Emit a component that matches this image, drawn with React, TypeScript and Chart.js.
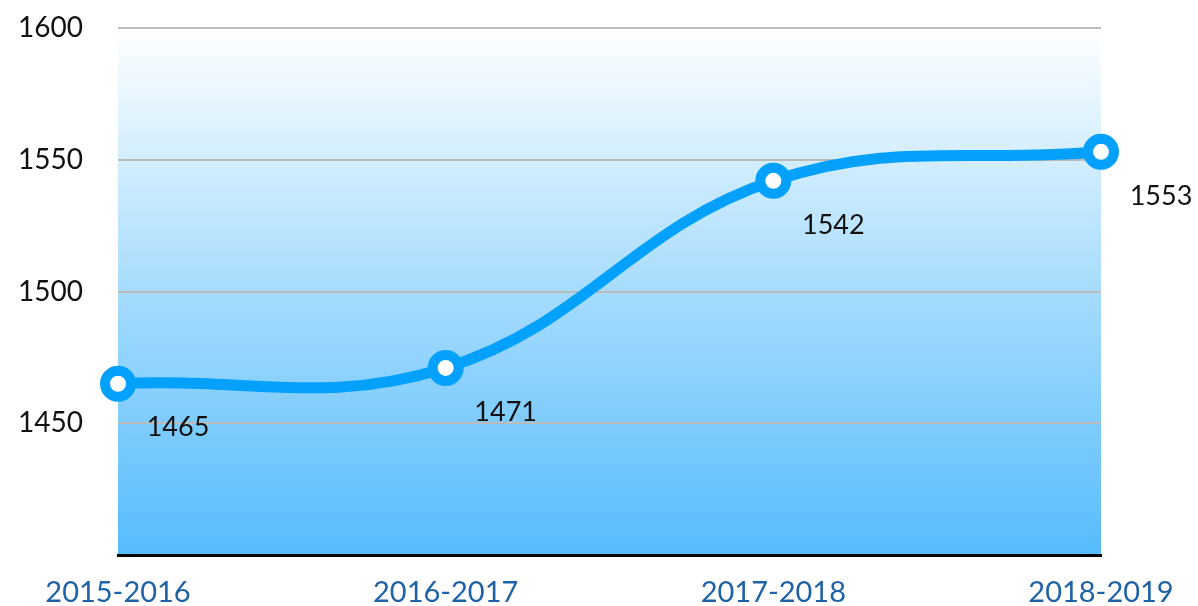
import React, { useEffect, useRef } from "react";
import { Chart, registerables } from "chart.js";

Chart.register(...registerables);

const categories = ["2015-2016", "2016-2017", "2017-2018", "2018-2019"];
const values = [1465, 1471, 1542, 1553];
const yTicks = [1450, 1500, 1550, 1600];

const FONT = "Lato, 'Noto Sans', sans-serif";

const bgPlugin = {
  id: "bgGradient",
  beforeDraw(chart: any) {
    const { ctx, chartArea } = chart;
    if (!chartArea) return;
    const g = ctx.createLinearGradient(0, chartArea.top, 0, chartArea.bottom);
    g.addColorStop(0, "#ffffff");
    g.addColorStop(0.5, "#a6dcfd");
    g.addColorStop(1, "#56bcfc");
    ctx.save();
    ctx.fillStyle = g;
    ctx.fillRect(chartArea.left, chartArea.top, chartArea.right - chartArea.left, chartArea.bottom - chartArea.top);
    ctx.restore();
  },
};

const labelPlugin = {
  id: "valueLabels",
  afterDatasetsDraw(chart: any) {
    const { ctx } = chart;
    const meta = chart.getDatasetMeta(0);
    ctx.save();
    ctx.font = `27px ${FONT}`;
    ctx.fillStyle = "#111111";
    ctx.textAlign = "center";
    ctx.textBaseline = "middle";
    meta.data.forEach((pt: any, i: number) => {
      ctx.fillText(String(values[i]), pt.x + 60, pt.y + 44);
    });
    ctx.restore();
  },
};

export default function App() {
  const ref = useRef<HTMLCanvasElement>(null);
  useEffect(() => {
    document.body.style.margin = "0";
    const chart = new Chart(ref.current!, {
      type: "line",
      data: {
        labels: categories,
        datasets: [
          {
            data: values,
            borderColor: "#03a1fb",
            borderWidth: 11,
            tension: 0.4,
            fill: false,
            pointRadius: 13,
            pointBorderWidth: 10,
            pointBackgroundColor: "#ffffff",
            pointBorderColor: "#03a1fb",
            clip: false as any,
          },
        ],
      },
      options: {
        animation: false,
        responsive: false,
        maintainAspectRatio: false,
        layout: { padding: { left: 0, right: 97, top: 28, bottom: 0 } },
        plugins: { legend: { display: false }, tooltip: { enabled: false } },
        scales: {
          x: {
            offset: false,
            grid: { display: false, drawTicks: false },
            border: { display: true, color: "#000000", width: 3 },
            ticks: {
              color: "#1f62a8",
              font: { size: 29, family: FONT },
              padding: 20,
              maxRotation: 0,
            },
            afterFit(scale: any) {
              scale.height = 51;
              scale.paddingLeft = 0;
              scale.paddingRight = 0;
            },
          },
          y: {
            min: 1400,
            max: 1600,
            afterBuildTicks(scale: any) {
              scale.ticks = [1400, ...yTicks].map((v) => ({ value: v }));
            },
            grid: { color: "#bbbbbb", lineWidth: 2, drawTicks: false },
            border: { display: false },
            ticks: {
              color: "#111111",
              font: { size: 28, family: FONT },
              padding: 35,
              callback: (v: any) => (yTicks.includes(Number(v)) ? String(v) : ""),
            },
            afterFit(scale: any) {
              scale.width = 118;
              scale.paddingTop = 0;
              scale.paddingBottom = 0;
            },
          },
        },
      },
      plugins: [bgPlugin, labelPlugin],
    });
    return () => chart.destroy();
  }, []);
  return <canvas ref={ref} width={1198} height={606} style={{ display: "block" }} />;
}
